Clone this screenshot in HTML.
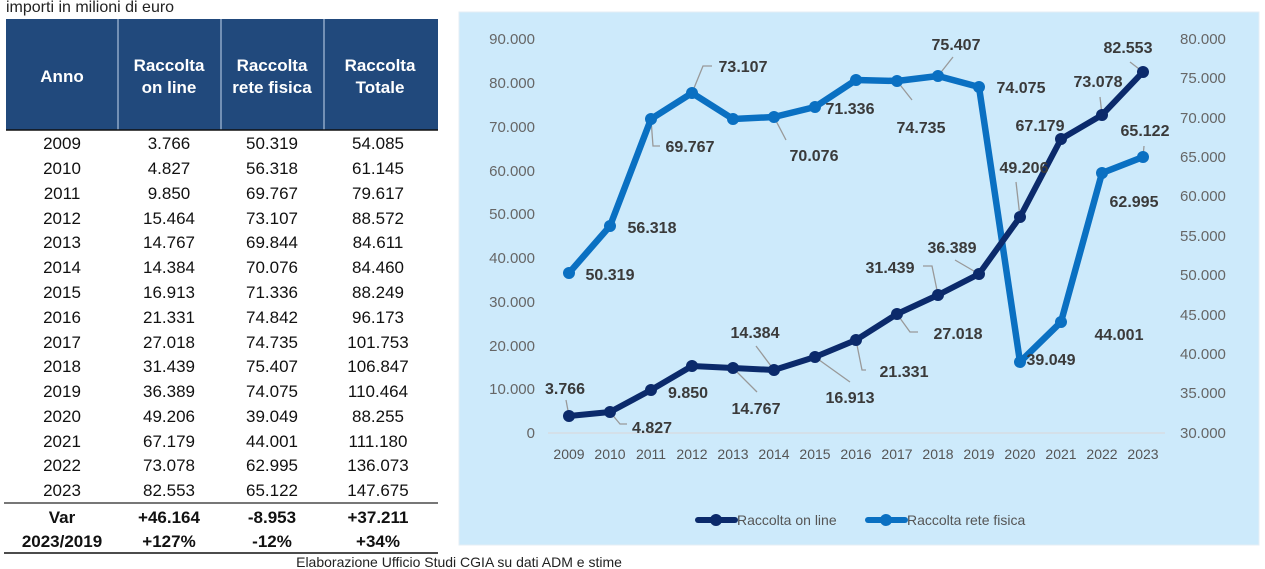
<!DOCTYPE html>
<html><head><meta charset="utf-8"><style>
html,body{margin:0;padding:0;background:#fff;width:1265px;height:569px;overflow:hidden}
svg{display:block}
text{font-family:"Liberation Sans",sans-serif}
</style></head><body>
<svg width="1265" height="569" viewBox="0 0 1265 569" xmlns="http://www.w3.org/2000/svg">
<text x="6" y="12" font-size="16" fill="#222">importi in milioni di euro</text>
<rect x="6" y="19" width="432" height="111" fill="#21497c"/>
<g stroke="#8fa8c8" stroke-width="1.5"><line x1="118" y1="19" x2="118" y2="130"/><line x1="221" y1="19" x2="221" y2="130"/><line x1="324" y1="19" x2="324" y2="130"/></g>
<g fill="#fff" font-weight="bold" font-size="17" text-anchor="middle">
<text x="62" y="82">Anno</text>
<text x="169" y="71">Raccolta</text><text x="169" y="93">on line</text>
<text x="272" y="71">Raccolta</text><text x="272" y="93">rete fisica</text>
<text x="380" y="71">Raccolta</text><text x="380" y="93">Totale</text>
</g>
<line x1="6" y1="130" x2="438" y2="130" stroke="#111" stroke-width="1.5"/>
<g font-size="17" fill="#111" text-anchor="middle">
<text x="62" y="149">2009</text><text x="169" y="149">3.766</text><text x="272" y="149">50.319</text><text x="378" y="149">54.085</text>
<text x="62" y="174">2010</text><text x="169" y="174">4.827</text><text x="272" y="174">56.318</text><text x="378" y="174">61.145</text>
<text x="62" y="199">2011</text><text x="169" y="199">9.850</text><text x="272" y="199">69.767</text><text x="378" y="199">79.617</text>
<text x="62" y="224">2012</text><text x="169" y="224">15.464</text><text x="272" y="224">73.107</text><text x="378" y="224">88.572</text>
<text x="62" y="248">2013</text><text x="169" y="248">14.767</text><text x="272" y="248">69.844</text><text x="378" y="248">84.611</text>
<text x="62" y="273">2014</text><text x="169" y="273">14.384</text><text x="272" y="273">70.076</text><text x="378" y="273">84.460</text>
<text x="62" y="298">2015</text><text x="169" y="298">16.913</text><text x="272" y="298">71.336</text><text x="378" y="298">88.249</text>
<text x="62" y="323">2016</text><text x="169" y="323">21.331</text><text x="272" y="323">74.842</text><text x="378" y="323">96.173</text>
<text x="62" y="348">2017</text><text x="169" y="348">27.018</text><text x="272" y="348">74.735</text><text x="378" y="348">101.753</text>
<text x="62" y="372">2018</text><text x="169" y="372">31.439</text><text x="272" y="372">75.407</text><text x="378" y="372">106.847</text>
<text x="62" y="397">2019</text><text x="169" y="397">36.389</text><text x="272" y="397">74.075</text><text x="378" y="397">110.464</text>
<text x="62" y="422">2020</text><text x="169" y="422">49.206</text><text x="272" y="422">39.049</text><text x="378" y="422">88.255</text>
<text x="62" y="447">2021</text><text x="169" y="447">67.179</text><text x="272" y="447">44.001</text><text x="378" y="447">111.180</text>
<text x="62" y="471">2022</text><text x="169" y="471">73.078</text><text x="272" y="471">62.995</text><text x="378" y="471">136.073</text>
<text x="62" y="496">2023</text><text x="169" y="496">82.553</text><text x="272" y="496">65.122</text><text x="378" y="496">147.675</text>
</g>
<line x1="4" y1="503" x2="438" y2="503" stroke="#777" stroke-width="2"/>
<g font-size="17" fill="#111" font-weight="bold" text-anchor="middle">
<text x="62" y="523">Var</text><text x="169" y="523">+46.164</text><text x="272" y="523">-8.953</text><text x="378" y="523">+37.211</text>
<text x="62" y="547">2023/2019</text><text x="169" y="547">+127%</text><text x="272" y="547">-12%</text><text x="378" y="547">+34%</text>
</g>
<line x1="4" y1="553" x2="438" y2="553" stroke="#111" stroke-width="1.5"/>
<text x="459" y="567" font-size="14" fill="#222" text-anchor="middle">Elaborazione Ufficio Studi CGIA su dati ADM e stime</text>

<rect x="459" y="12" width="800" height="533" fill="#cdeafb" stroke="#e4eef5"/>
<g font-size="15" fill="#666" text-anchor="end">
<text x="535" y="44">90.000</text><text x="535" y="88">80.000</text><text x="535" y="132">70.000</text><text x="535" y="176">60.000</text><text x="535" y="219">50.000</text><text x="535" y="263">40.000</text><text x="535" y="307">30.000</text><text x="535" y="351">20.000</text><text x="535" y="394">10.000</text><text x="535" y="438">0</text>
</g>
<g font-size="15" fill="#666" text-anchor="start">
<text x="1180" y="44">80.000</text><text x="1180" y="83">75.000</text><text x="1180" y="123">70.000</text><text x="1180" y="162">65.000</text><text x="1180" y="201">60.000</text><text x="1180" y="241">55.000</text><text x="1180" y="280">50.000</text><text x="1180" y="320">45.000</text><text x="1180" y="359">40.000</text><text x="1180" y="398">35.000</text><text x="1180" y="438">30.000</text>
</g>
<line x1="548" y1="433" x2="1165" y2="433" stroke="#d6dde3" stroke-width="1.5"/>
<g font-size="14" fill="#555" text-anchor="middle">
<text x="569" y="459">2009</text><text x="610" y="459">2010</text><text x="651" y="459">2011</text><text x="692" y="459">2012</text><text x="733" y="459">2013</text><text x="774" y="459">2014</text><text x="815" y="459">2015</text><text x="856" y="459">2016</text><text x="897" y="459">2017</text><text x="938" y="459">2018</text><text x="979" y="459">2019</text><text x="1020" y="459">2020</text><text x="1061" y="459">2021</text><text x="1102" y="459">2022</text><text x="1143" y="459">2023</text>
</g>
<g stroke="#999" stroke-width="1.3" fill="none">
<path d="M569 416 L566 400"/><path d="M610 412 L620 424 L627 424"/><path d="M692 93 L703 66 L712 66"/><path d="M651 119 L653 146 L660 146"/><path d="M774 117 L786 140"/><path d="M897 81 L912 100"/><path d="M938 76 L953 57"/><path d="M938 295 L932 266 L923 266"/><path d="M979 274 L955 260"/><path d="M1020 217 L1016 182"/><path d="M1102 115 L1100 97"/><path d="M1143 72 L1130 62"/><path d="M1143 157 L1144 146"/><path d="M897 314 L910 332 L918 332"/><path d="M774 370 L756 346"/><path d="M815 357 L850 382"/><path d="M856 340 L862 370 L866 370"/><path d="M733 368 L757 392"/>
</g>
<polyline fill="none" stroke="#0a70c2" stroke-width="6.5" stroke-linejoin="round" points="569,273 610,226 651,119 692,93 733,119 774,117 815,107 856,80 897,81 938,76 979,87 1020,362 1061,322 1102,173 1143,157"/>
<g fill="#0a70c2"><circle cx="569" cy="273" r="6"/><circle cx="610" cy="226" r="6"/><circle cx="651" cy="119" r="6"/><circle cx="692" cy="93" r="6"/><circle cx="733" cy="119" r="6"/><circle cx="774" cy="117" r="6"/><circle cx="815" cy="107" r="6"/><circle cx="856" cy="80" r="6"/><circle cx="897" cy="81" r="6"/><circle cx="938" cy="76" r="6"/><circle cx="979" cy="87" r="6"/><circle cx="1020" cy="362" r="6"/><circle cx="1061" cy="322" r="6"/><circle cx="1102" cy="173" r="6"/><circle cx="1143" cy="157" r="6"/></g>
<polyline fill="none" stroke="#0b2a6b" stroke-width="6" stroke-linejoin="round" points="569,416 610,412 651,390 692,366 733,368 774,370 815,357 856,340 897,314 938,295 979,274 1020,217 1061,139 1102,115 1143,72"/>
<g fill="#0b2a6b"><circle cx="569" cy="416" r="6"/><circle cx="610" cy="412" r="6"/><circle cx="651" cy="390" r="6"/><circle cx="692" cy="366" r="6"/><circle cx="733" cy="368" r="6"/><circle cx="774" cy="370" r="6"/><circle cx="815" cy="357" r="6"/><circle cx="856" cy="340" r="6"/><circle cx="897" cy="314" r="6"/><circle cx="938" cy="295" r="6"/><circle cx="979" cy="274" r="6"/><circle cx="1020" cy="217" r="6"/><circle cx="1061" cy="139" r="6"/><circle cx="1102" cy="115" r="6"/><circle cx="1143" cy="72" r="6"/></g>
<g font-size="16" font-weight="bold" fill="#3a3a3a" text-anchor="middle">
<text x="610" y="280">50.319</text><text x="652" y="233">56.318</text><text x="690" y="152">69.767</text><text x="743" y="72">73.107</text><text x="814" y="161">70.076</text><text x="850" y="114">71.336</text><text x="921" y="133">74.735</text><text x="956" y="50">75.407</text><text x="1021" y="93">74.075</text><text x="1051" y="365">39.049</text><text x="1119" y="340">44.001</text><text x="1134" y="207">62.995</text><text x="1145" y="136">65.122</text>
<text x="565" y="394">3.766</text><text x="652" y="433">4.827</text><text x="688" y="398">9.850</text><text x="755" y="338">14.384</text><text x="756" y="414">14.767</text><text x="850" y="403">16.913</text><text x="904" y="377">21.331</text><text x="958" y="339">27.018</text><text x="890" y="273">31.439</text><text x="952" y="253">36.389</text><text x="1024" y="173">49.206</text><text x="1040" y="131">67.179</text><text x="1098" y="87">73.078</text><text x="1128" y="53">82.553</text>
</g>
<line x1="698" y1="520" x2="735" y2="520" stroke="#0b2a6b" stroke-width="6" stroke-linecap="round"/><circle cx="716" cy="520" r="6" fill="#0b2a6b"/>
<text x="737" y="525" font-size="14" fill="#555">Raccolta on line</text>
<line x1="868" y1="520" x2="905" y2="520" stroke="#0a70c2" stroke-width="6" stroke-linecap="round"/><circle cx="886" cy="520" r="6" fill="#0a70c2"/>
<text x="907" y="525" font-size="14" fill="#555">Raccolta rete fisica</text>
</svg>
</body></html>
